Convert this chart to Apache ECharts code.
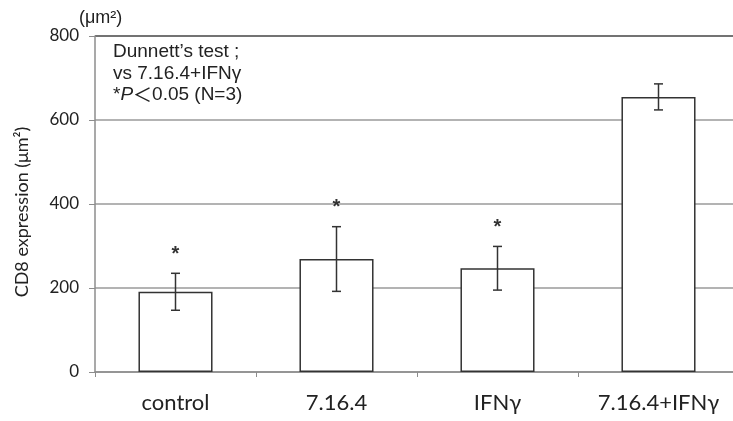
<!DOCTYPE html>
<html>
<head>
<meta charset="utf-8">
<script src="https://cdn.jsdelivr.net/npm/echarts@6/dist/echarts.min.js"></script>
<style>
  html, body { margin: 0; padding: 0; background: #fff; }
  #chart { width: 733px; height: 421px; }
</style>
</head>
<body>
<div id="chart"></div>
<script>
// data
var categories = ['control', '7.16.4', 'IFNγ', '7.16.4+IFNγ'];
var means = [191, 269, 247, 655];
var errors = [44, 77, 52, 31];
var stars = ['*', '*', '*', ''];
var yTicks = [0, 200, 400, 600, 800];

var chart = echarts.init(document.getElementById('chart'));

var errData = [];
for (var i = 0; i < categories.length; i++) {
	errData.push([i, means[i] - errors[i], means[i] + errors[i], stars[i]]);
}

var noteStyle = { color: '#222', fontSize: 19, fontWeight: 'normal', fontFamily: 'Liberation Sans' };

var option = {
	animation: false,
	title: [
		{ text: '(μm²)', left: 77, top: 7, padding: 2, textStyle: { color: '#222', fontSize: 18, fontWeight: 'normal', fontFamily: 'Liberation Sans' } },
		{ text: 'Dunnett\u2019s test ;', left: 111, top: 40, padding: 2, textStyle: noteStyle },
		{ text: 'vs 7.16.4+IFNγ', left: 111, top: 62, padding: 2, textStyle: noteStyle },
		{
			text: '{n|*}{i|P}{w|＜}{n|0.05 (N=3)}', left: 111, top: 83, padding: 2,
			textStyle: {
				color: '#222',
				fontWeight: 'normal',
				rich: {
					n: { color: '#222', fontSize: 19, fontWeight: 'normal', fontFamily: 'Liberation Sans' },
					i: { color: '#222', fontSize: 19, fontWeight: 'normal', fontStyle: 'italic', fontFamily: 'Liberation Sans' },
					w: { color: '#222', fontSize: 19, fontWeight: 'normal', fontFamily: 'Noto Sans CJK JP' }
				}
			}
		}
	],
	grid: { left: 95, top: 36, right: -6, height: 336, outerBoundsMode: 'none', containLabel: false },
	xAxis: {
		type: 'category',
		data: categories,
		axisLine: { lineStyle: { color: '#8c8c8c', width: 1.5 } },
		axisTick: { show: true, length: 5, lineStyle: { color: '#8c8c8c' } },
		axisLabel: { color: '#222', fontSize: 22, fontFamily: 'Lato', margin: 20 }
	},
	yAxis: {
		type: 'value',
		min: yTicks[0],
		max: yTicks[yTicks.length - 1],
		interval: 200,
		name: 'CD8 expression (μm²)',
		nameLocation: 'middle',
		nameGap: 64,
		nameRotate: 90,
		nameTextStyle: { color: '#222', fontSize: 18, fontFamily: 'Lato', padding: [0, 0, 0, -16] },
		axisLine: { show: true, lineStyle: { color: '#8c8c8c', width: 1.5 } },
		axisTick: { show: true, inside: false, length: 6, lineStyle: { color: '#8c8c8c' } },
		axisLabel: { color: '#222', fontSize: 17, fontFamily: 'Lato', margin: 16 },
		splitLine: { lineStyle: { color: ['#9a9a9a', '#9a9a9a', '#9a9a9a', '#9a9a9a', '#444'], width: 1.5 } }
	},
	series: [
		{
			type: 'bar',
			data: means,
			barWidth: '46%',
			itemStyle: { color: '#fff', borderColor: '#333', borderWidth: 1.5 }
		},
		{
			type: 'custom',
			data: errData,
			z: 10,
			renderItem: function (params, api) {
				var lo = api.coord([api.value(0), api.value(1)]);
				var hi = api.coord([api.value(0), api.value(2)]);
				var x = lo[0], cap = 4.5;
				var st = { stroke: '#333', lineWidth: 1.5 };
				return {
					type: 'group',
					children: [
						{ type: 'line', shape: { x1: x, y1: lo[1], x2: x, y2: hi[1] }, style: st },
						{ type: 'line', shape: { x1: x - cap, y1: lo[1], x2: x + cap, y2: lo[1] }, style: st },
						{ type: 'line', shape: { x1: x - cap, y1: hi[1], x2: x + cap, y2: hi[1] }, style: st },
						{ type: 'text', style: { text: api.value(3), x: x, y: hi[1] - 19, align: 'center', verticalAlign: 'middle',
							fontSize: 20, fontWeight: 'bold', fontFamily: 'Liberation Sans', fill: '#333' } }
					]
				};
			}
		}
	]
};

chart.setOption(option);
</script>
</body>
</html>
